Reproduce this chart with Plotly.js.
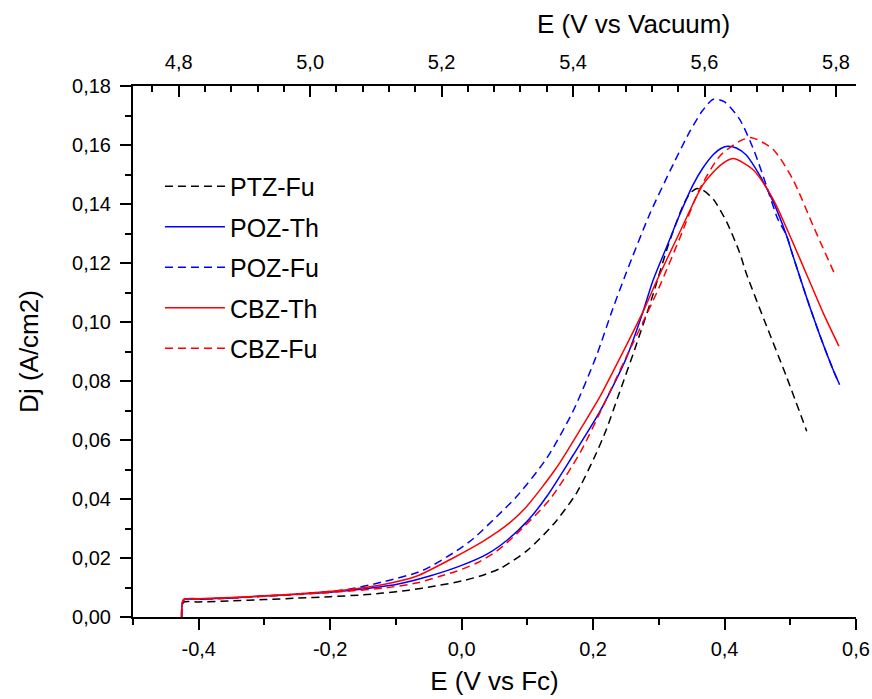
<!DOCTYPE html>
<html>
<head>
<meta charset="utf-8">
<script src="https://cdn.plot.ly/plotly-3.0.1.min.js"></script>
<style>html,body{margin:0;padding:0;background:#fff;}#chart{width:872px;height:699px;}</style>
</head>
<body>
<div id="chart"></div>
<script>
// Series names
const seriesNames = ["PTZ-Fu", "POZ-Th", "POZ-Fu", "CBZ-Th", "CBZ-Fu"];

// PTZ-Fu (E vs Fc, Dj)
const ptzFuX = [-0.426, -0.423, -0.40, -0.35, -0.30, -0.25, -0.20, -0.15, -0.12, -0.08, -0.04, 0.00, 0.03, 0.06, 0.10, 0.14, 0.175, 0.205, 0.22, 0.24, 0.265, 0.29, 0.315, 0.337, 0.347, 0.357, 0.367, 0.383, 0.403, 0.423, 0.433, 0.464, 0.494, 0.525];
const ptzFuY = [0.000, 0.0050, 0.0051, 0.0055, 0.0059, 0.0064, 0.0069, 0.0075, 0.0081, 0.0091, 0.0105, 0.0122, 0.0140, 0.0166, 0.0226, 0.0315, 0.0421, 0.0556, 0.0635, 0.0760, 0.0918, 0.1085, 0.1265, 0.1395, 0.1435, 0.1452, 0.1447, 0.1416, 0.1340, 0.1235, 0.1165, 0.0986, 0.0816, 0.0630];

// POZ-Th
const pozThX = [-0.426, -0.423, -0.40, -0.35, -0.30, -0.25, -0.20, -0.15, -0.10, -0.05, 0.00, 0.04, 0.07, 0.10, 0.13, 0.17, 0.21, 0.25, 0.276, 0.291, 0.312, 0.332, 0.352, 0.367, 0.383, 0.395, 0.405, 0.418, 0.433, 0.454, 0.474, 0.494, 0.504, 0.525, 0.545, 0.565, 0.575];
const pozThY = [0.000, 0.0058, 0.0060, 0.0064, 0.0071, 0.0077, 0.0084, 0.0095, 0.0110, 0.0138, 0.0175, 0.0215, 0.0262, 0.0325, 0.0410, 0.0550, 0.0695, 0.0875, 0.1035, 0.1140, 0.1255, 0.1365, 0.1465, 0.1522, 0.1568, 0.1589, 0.1596, 0.1590, 0.1566, 0.1495, 0.1408, 0.1295, 0.1225, 0.1082, 0.0955, 0.0839, 0.0788];

// POZ-Fu
const pozFuX = [-0.426, -0.423, -0.40, -0.35, -0.30, -0.25, -0.175, -0.12, -0.06, -0.008, 0.018, 0.053, 0.084, 0.13, 0.17, 0.205, 0.23, 0.251, 0.286, 0.322, 0.347, 0.366, 0.383, 0.40, 0.423, 0.445, 0.464, 0.481, 0.494, 0.504, 0.525, 0.545, 0.565, 0.575];
const pozFuY = [0.000, 0.0058, 0.0060, 0.0065, 0.0071, 0.0078, 0.0093, 0.0119, 0.0157, 0.0224, 0.0266, 0.0340, 0.0409, 0.0540, 0.0700, 0.0885, 0.1045, 0.1170, 0.1365, 0.1535, 0.1645, 0.1715, 0.1755, 0.1746, 0.1687, 0.1580, 0.1460, 0.1349, 0.1295, 0.1225, 0.1082, 0.0955, 0.0839, 0.0788];

// CBZ-Th
const cbzThX = [-0.426, -0.423, -0.40, -0.35, -0.30, -0.25, -0.17, -0.119, -0.069, -0.018, 0.033, 0.073, 0.099, 0.144, 0.185, 0.21, 0.25, 0.276, 0.2965, 0.332, 0.367, 0.393, 0.413, 0.443, 0.474, 0.504, 0.527, 0.55, 0.574];
const cbzThY = [0.000, 0.0060, 0.0062, 0.0066, 0.0072, 0.0078, 0.0093, 0.0110, 0.0138, 0.0194, 0.0257, 0.0319, 0.0375, 0.0505, 0.0652, 0.0745, 0.0918, 0.1035, 0.1138, 0.1305, 0.1465, 0.1530, 0.1554, 0.1517, 0.1416, 0.1269, 0.1150, 0.1031, 0.0918];

// CBZ-Fu
const cbzFuX = [-0.426, -0.423, -0.40, -0.35, -0.30, -0.25, -0.17, -0.119, -0.069, -0.033, -0.008, 0.023, 0.053, 0.078, 0.134, 0.18, 0.215, 0.251, 0.261, 0.30, 0.332, 0.362, 0.393, 0.423, 0.441, 0.474, 0.504, 0.535, 0.568];
const cbzFuY = [0.000, 0.0058, 0.0060, 0.0064, 0.0070, 0.0076, 0.0088, 0.0098, 0.0115, 0.0138, 0.0155, 0.0183, 0.0223, 0.0270, 0.0398, 0.0556, 0.0714, 0.0884, 0.0930, 0.1115, 0.1285, 0.1450, 0.1563, 0.1613, 0.1625, 0.1585, 0.1483, 0.1325, 0.1160];

// Axis settings and tick labels
const xRange = [-0.5, 0.6];
const xTickVals = [-0.4, -0.2, 0.0, 0.2, 0.4, 0.6];
const xTickText = ["-0,4", "-0,2", "0,0", "0,2", "0,4", "0,6"];
const vacuumOffset = 5.2305; // E(vacuum) = E(Fc) + offset
const xTitle = "E (V vs Fc)";
const x2Title = "E (V vs Vacuum)";
const yTitle = "Dj (A/cm2)";

const font = "Liberation Sans, Arial, sans-serif";
const colors = ["#000000", "#0000ff", "#0000ff", "#ff0000", "#ff0000"];
const dashes = ["8px,5px", "solid", "8px,5px", "solid", "8px,5px"];
const xs = [ptzFuX, pozThX, pozFuX, cbzThX, cbzFuX];
const ys = [ptzFuY, pozThY, pozFuY, cbzThY, cbzFuY];

const traces = seriesNames.map((n, i) => ({
  x: xs[i], y: ys[i], name: n, type: "scatter", mode: "lines",
  legendgroup: n,
  line: {color: colors[i], width: 1.5, dash: dashes[i], shape: "spline", smoothing: 0.7},
  xaxis: "x", yaxis: "y"
}));
// invisible trace so the top (vacuum-scale) axis is drawn
traces.push({
  x: ptzFuX.map(v => v + vacuumOffset), y: ptzFuY, type: "scatter", mode: "lines",
  opacity: 0, showlegend: false, hoverinfo: "skip", xaxis: "x2", yaxis: "y",
  line: {width: 0}
});

const tickFont = {family: font, size: 20, color: "#000"};
const titleFont = {family: font, size: 26, color: "#000"};

const layout = {
  width: 872, height: 699,
  margin: {l: 133, r: 16, t: 86, b: 82},
  paper_bgcolor: "#fff", plot_bgcolor: "#fff",
  separators: ",.",
  font: {family: font, color: "#000"},
  showlegend: true,
  legend: {
    x: 0.0373, y: 0.854, xanchor: "left", yanchor: "top",
    font: {family: font, size: 25, color: "#000"},
    traceorder: "grouped", tracegroupgap: 5, itemwidth: 60,
    bgcolor: "rgba(0,0,0,0)", borderwidth: 0
  },
  xaxis: {
    range: xRange, tickmode: "array", tickvals: xTickVals, ticktext: xTickText,
    ticks: "outside", ticklen: 11, tickwidth: 2, tickcolor: "#000",
    ticklabelstandoff: 2,
    minor: {dtick: 0.1, tick0: 0, ticks: "outside", ticklen: 6, tickwidth: 2, tickcolor: "#000"},
    showline: true, linewidth: 2, linecolor: "#000", mirror: false,
    showgrid: false, zeroline: false,
    tickfont: tickFont,
    title: {text: xTitle, font: titleFont, standoff: 13}
  },
  xaxis2: {
    overlaying: "x", side: "top", anchor: "y",
    range: [xRange[0] + vacuumOffset, xRange[1] + vacuumOffset],
    tick0: 4.8, dtick: 0.2, tickformat: ".1f",
    ticks: "inside", ticklen: 11, tickwidth: 2, tickcolor: "#000",
    ticklabelstandoff: 7,
    minor: {dtick: 0.04, tick0: 4.8, ticks: "inside", ticklen: 6, tickwidth: 2, tickcolor: "#000"},
    showline: true, linewidth: 2, linecolor: "#000",
    showgrid: false, zeroline: false,
    tickfont: tickFont
  },
  yaxis: {
    range: [0, 0.18], tick0: 0, dtick: 0.02, tickformat: ".2f",
    ticks: "outside", ticklen: 11, tickwidth: 2, tickcolor: "#000",
    ticklabelstandoff: 5,
    minor: {dtick: 0.01, ticks: "outside", ticklen: 6, tickwidth: 2, tickcolor: "#000"},
    showline: true, linewidth: 2, linecolor: "#000",
    showgrid: false, zeroline: false,
    tickfont: tickFont,
    title: {text: yTitle, font: titleFont, standoff: 26}
  },
  annotations: [{
    text: x2Title, xref: "paper", yref: "paper", x: 0.6916, y: 1.117,
    xanchor: "center", yanchor: "middle", showarrow: false,
    font: titleFont
  }]
};

Plotly.newPlot("chart", traces, layout, {displayModeBar: false, staticPlot: true});
</script>
</body>
</html>
